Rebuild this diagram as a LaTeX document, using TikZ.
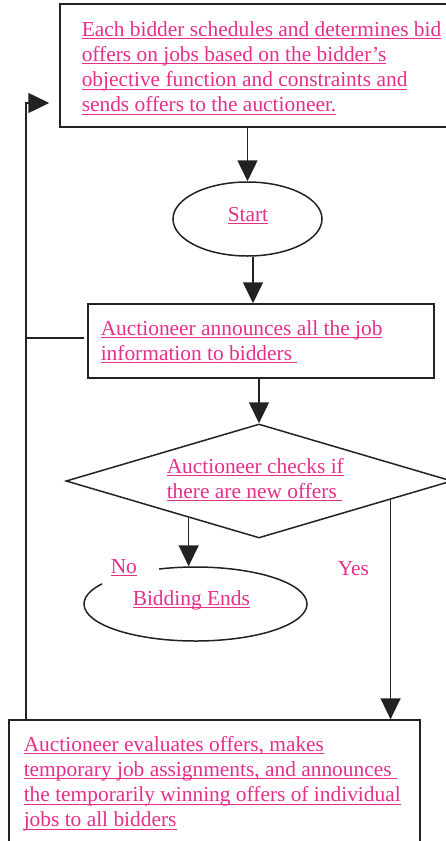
\documentclass[tikz,border=0pt]{standalone}
\usepackage{fontspec}
\setmainfont{Liberation Serif}
\usetikzlibrary{arrows.meta,shapes.geometric,calc}
\definecolor{ink}{HTML}{E62E8B}
\definecolor{edge}{HTML}{222222}
% underlined line of text: rule at a fixed depth below the baseline
\newsavebox\ulinebox
\newcommand\uln[1]{\sbox\ulinebox{#1}\rlap{\rule[-3pt]{\wd\ulinebox}{0.9pt}}\usebox\ulinebox}
\begin{document}
\begin{tikzpicture}[x=1pt,y=-1pt,
  line width=1.5pt,
  box/.style={draw=edge, rectangle, inner sep=0pt},
  oval/.style={ellipse, inner sep=0pt},
  txt/.style={text=ink, font=\fontsize{21.4}{25.2}\selectfont, inner sep=0pt, align=left, anchor=base west},
  flow/.style={draw=edge, -{Triangle[width=20pt,length=21pt]}},
  link/.style={draw=edge}
]
\useasboundingbox (0,0) rectangle (445,841);

% boxes and shapes
\node[box, minimum width=420, minimum height=123] (top) at (270,65.5) {};
\node[draw=edge, oval, minimum width=149, minimum height=74] (start) at (247.5,219) {};
\node[box, minimum width=346, minimum height=74] (ann) at (261,341) {};
\node[draw=edge, diamond, minimum width=386, minimum height=114, inner sep=0pt] (dia) at (259,481) {};
\node[oval, minimum width=223, minimum height=74] (bid) at (195.5,604) {};
\node[box, minimum width=411, minimum height=160] (bot) at (214.5,800) {};

% the end oval is open where the "No" label sits
\draw[link] ($(bid.center)+(147:111.5pt and 37pt)$)
  arc[start angle=147, end angle=469, x radius=111.5pt, y radius=37pt];

% connectors
\draw[flow] (start.north |- top.south) -- (start.north);
\coordinate (s2) at ([xshift=5.5pt]start.south);
\draw[flow] (s2) -- (s2 |- ann.north);
\draw[flow] (dia.north |- ann.south) -- (dia.north);
\coordinate (dl) at ($(dia.south)!0.363!(dia.west)$);
\coordinate (dr) at ($(dia.south)!0.679!(dia.east)$);
\draw[flow] (dl) -- (dl |- bid.north);
\draw[flow] (dr) -- (dr |- bot.north);
\coordinate (fb) at (26,103);
\draw[flow, shorten >=10pt] (fb |- bot.north) -- (fb) -- (fb -| top.west);
\draw[link, shorten <=3pt] ([yshift=3pt]ann.west) -- ([yshift=3pt]ann.west -| fb);

% texts (base anchor of a multi-line node is its last baseline)
\node[txt] (toptext) at (81,111.6) {\uln{Each bidder schedules and determines bid}\\
  \uln{offers on jobs based on the bidder’s}\\
  \uln{objective function and constraints and}\\
  \uln{sends offers to the auctioneer.}};
\node[txt] (starttext) at (227,221) {\uln{Start}};
\node[txt] (anntext) at (100,360.2) {\uln{Auctioneer announces all the job}\\
  \uln{information to bidders\ }};
\node[txt] (diatext) at (166,498.2) {\uln{Auctioneer checks if}\\
  \uln{there are new offers\ }};
\node[txt] (notext) at (110,573) {\uln{No}};
\node[txt] (yestext) at (337,575) {Yes};
\node[txt] (bidtext) at (132,605) {\uln{Bidding Ends}};
\node[txt] (bottext) at (23,826.6) {\uln{Auctioneer evaluates offers, makes}\\
  \uln{temporary job assignments, and announces\ }\\
  \uln{the temporarily winning offers of individual}\\
  \uln{jobs to all bidders}};
\end{tikzpicture}
\end{document}
